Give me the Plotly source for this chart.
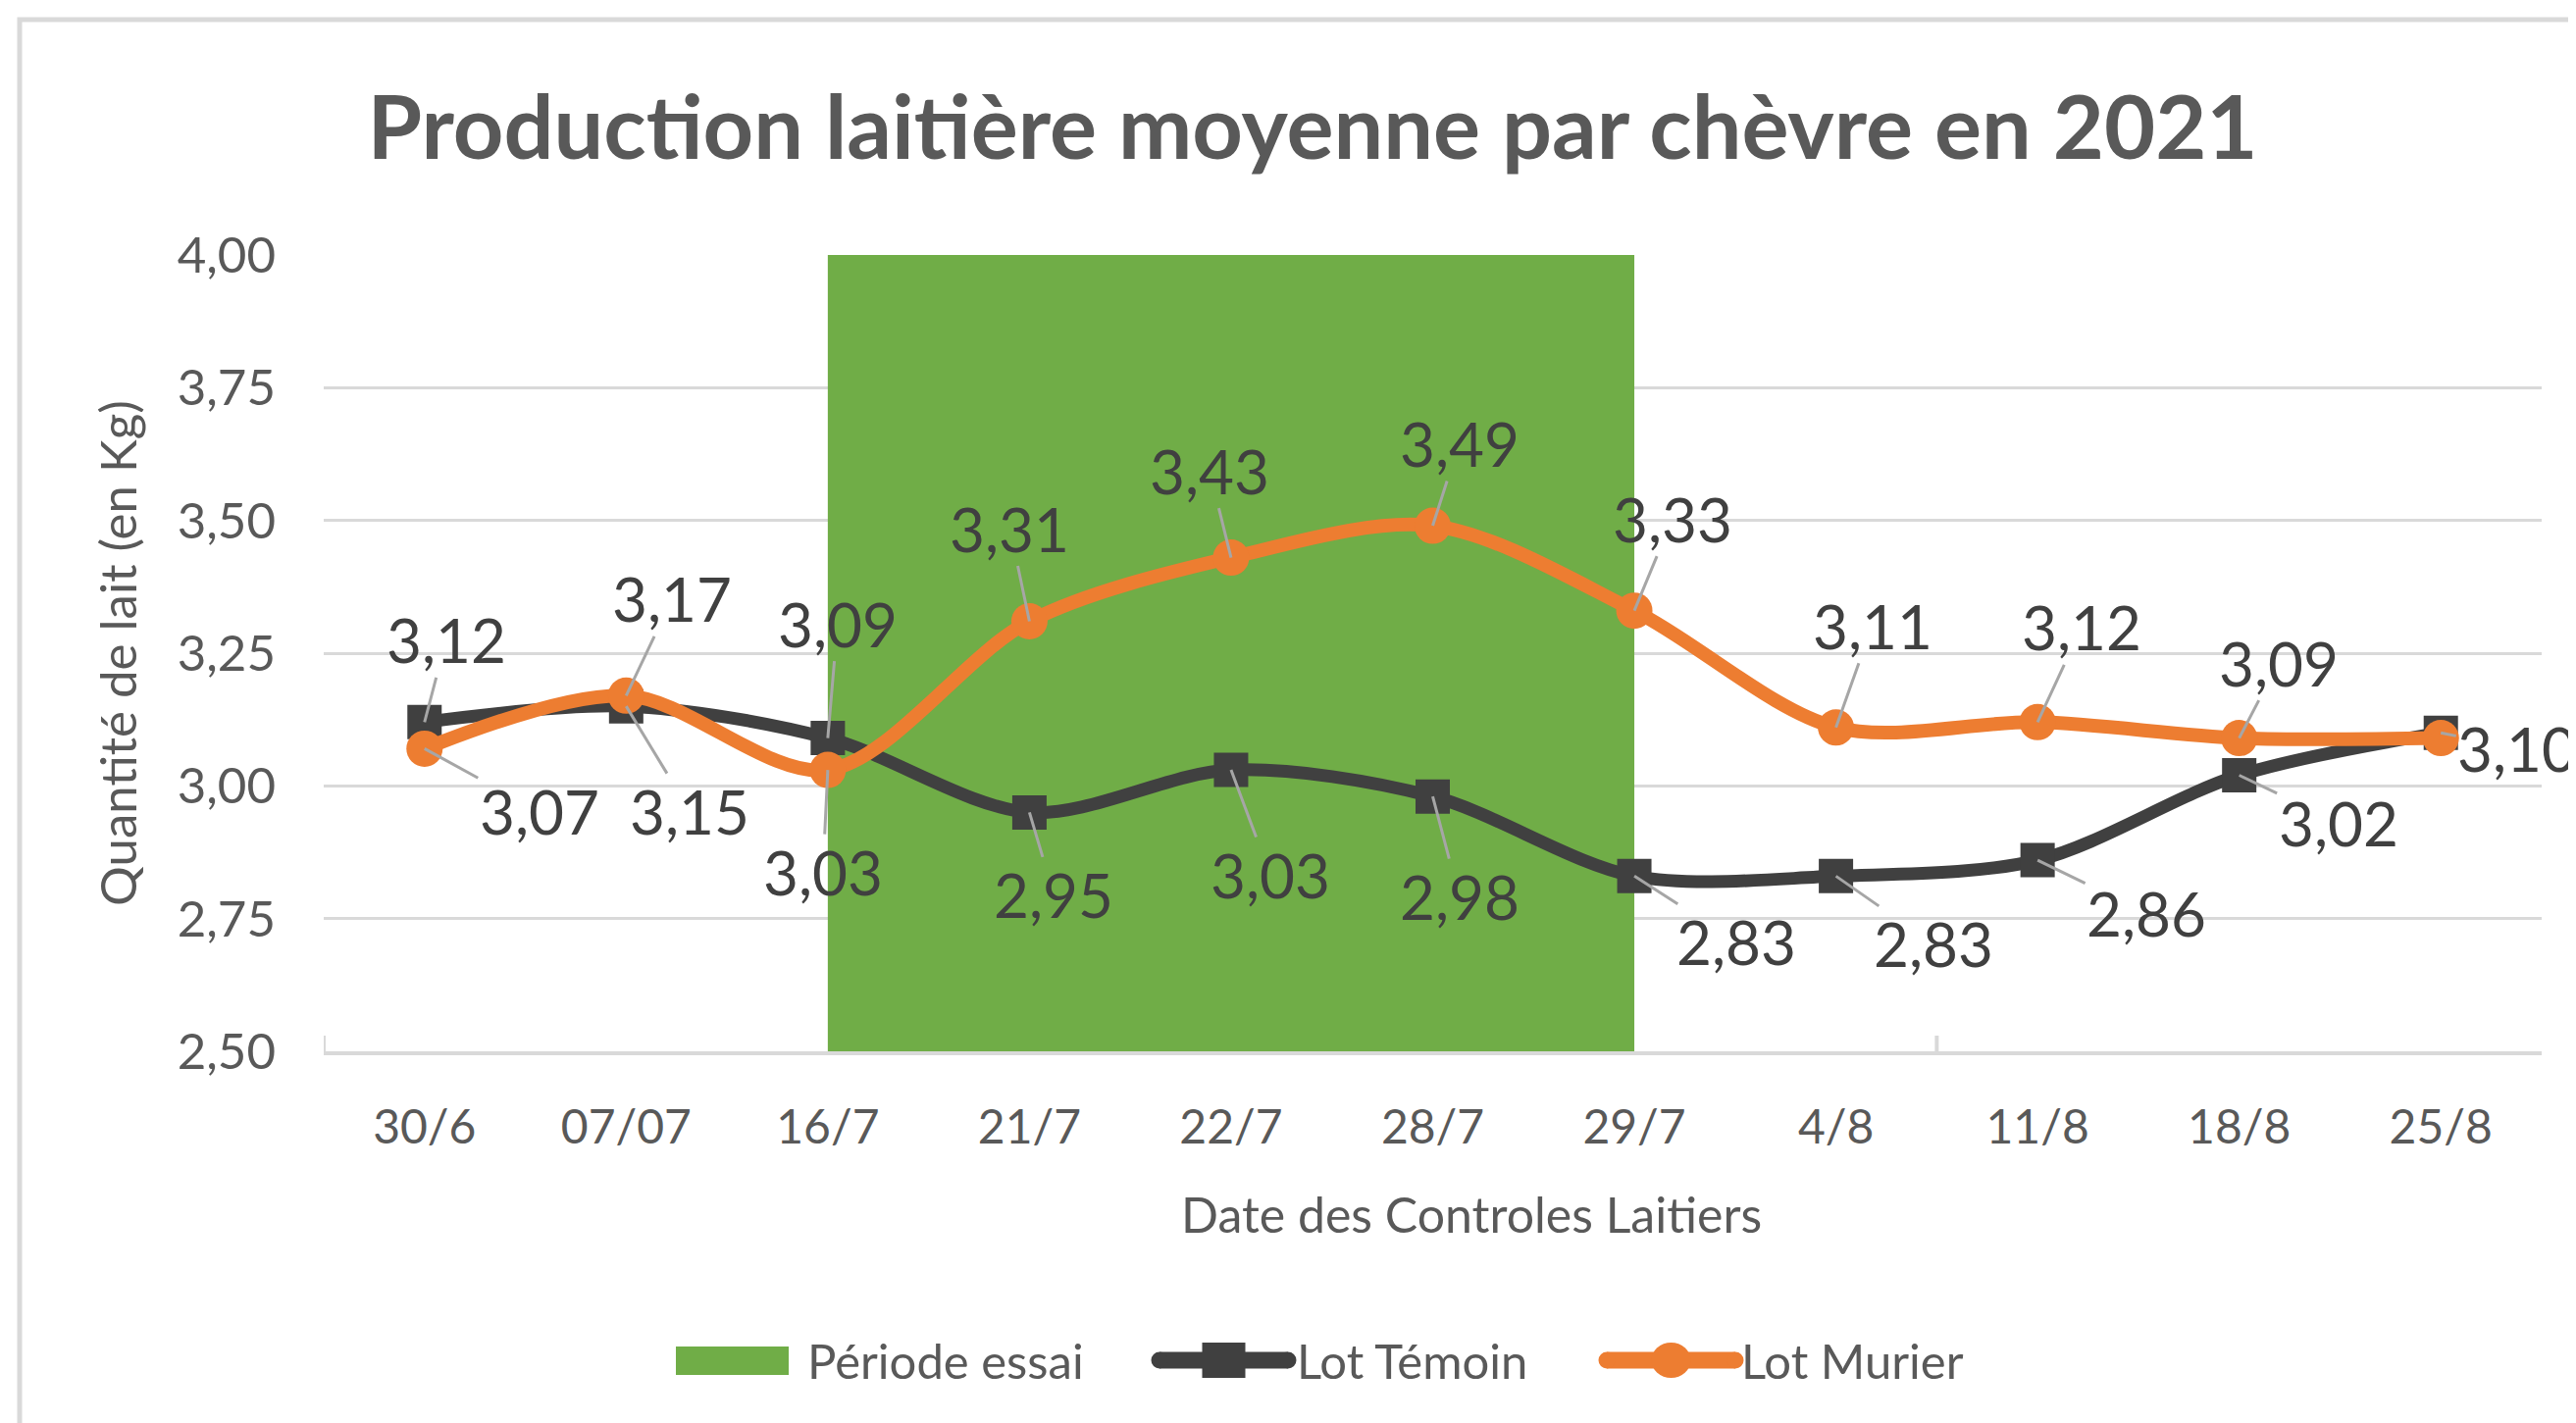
import plotly.graph_objects as go

# ---------------- data ----------------
dates = ["30/6", "07/07", "16/7", "21/7", "22/7", "28/7", "29/7", "4/8", "11/8", "18/8", "25/8"]
temoin = [3.12, 3.15, 3.09, 2.95, 3.03, 2.98, 2.83, 2.83, 2.86, 3.02, 3.10]
murier = [3.07, 3.17, 3.03, 3.31, 3.43, 3.49, 3.33, 3.11, 3.12, 3.09, 3.09]
essai_start = "16/7"
essai_end = "29/7"
y_min, y_max = 2.50, 4.00
y_ticks = [2.50, 2.75, 3.00, 3.25, 3.50, 3.75, 4.00]
y_tick_labels = ["2,50", "2,75", "3,00", "3,25", "3,50", "3,75", "4,00"]
series_names = ["Période essai", "Lot Témoin", "Lot Murier"]
chart_title = "Production laitière moyenne par chèvre en 2021"
x_title = "Date des Controles Laitiers"
y_title = "Quantité de lait (en Kg)"

# label offsets (pixels, screen coords) – styling only
temoin_offsets = [(22, -84), (65, 107), (10, -117), (25, 84), (40, 107), (27, 102),
                  (104, 67), (99, 69), (111, 54), (101, 48), (78, 16)]
murier_offsets = [(117, 64), (47, -99), (-5, 104), (-20, -95), (-22, -89), (27, -84),
                  (39, -94), (37, -104), (45, -97), (40, -77), None]

GREEN = "#70AD47"
DARK = "#404040"
ORANGE = "#ED7D31"
GRID = "#D9D9D9"
TXT = "#595959"
FONT = "Lato"

PAGE_OFF = 8                      # default body margin of the html page
W, H = 2626 - PAGE_OFF, 1451 - PAGE_OFF
L, R, T, B = 330 - PAGE_OFF, 35, 260 - PAGE_OFF, 379
PW, PH = W - L - R, H - T - B


def fmt(v):
    return f"{v:.2f}".replace(".", ",")


def px(xa):   # absolute page x -> paper
    return (xa - PAGE_OFF - L) / PW


def py(ya):   # absolute page y -> paper
    return (H - B - (ya - PAGE_OFF)) / PH


fig = go.Figure()

fig.add_trace(go.Scatter(
    x=[essai_start, essai_end, essai_end, essai_start, essai_start],
    y=[y_min, y_min, y_max, y_max, y_min],
    mode="none", fill="toself", fillcolor=GREEN,
    name=series_names[0], hoverinfo="skip", showlegend=False,
))

fig.add_trace(go.Scatter(
    x=dates, y=temoin, name=series_names[1], mode="lines+markers",
    line=dict(color=DARK, width=13, shape="spline", smoothing=0.9),
    marker=dict(symbol="square", size=35, color=DARK),
    showlegend=False,
))

fig.add_trace(go.Scatter(
    x=dates, y=murier, name=series_names[2], mode="lines+markers",
    line=dict(color=ORANGE, width=14, shape="spline", smoothing=0.9),
    marker=dict(symbol="circle", size=37, color=ORANGE),
    showlegend=False,
))

annotations = []
for series, offsets in ((temoin, temoin_offsets), (murier, murier_offsets)):
    for d, v, off in zip(dates, series, offsets):
        if off is None:
            continue
        annotations.append(dict(
            x=d, y=v, xref="x", yref="y", text=fmt(v),
            showarrow=True, arrowhead=0, arrowwidth=3, arrowcolor="#A6A6A6",
            ax=off[0], ay=off[1], standoff=0,
            font=dict(family=FONT, size=62, color=DARK),
        ))

# x axis title (Excel centres it slightly right of the plot centre)
annotations.append(dict(
    x=px(1500), y=py(1238), xref="paper", yref="paper",
    xanchor="center", yanchor="middle", showarrow=False, text=x_title,
    font=dict(family=FONT, size=50, color=TXT),
))

shapes = [
    # outer chart border
    dict(type="rect", xref="paper", yref="paper",
         x0=px(20), x1=1.3, y0=-1.0, y1=py(20),
         line=dict(color=GRID, width=5), layer="below"),
]
# cross tick marks on the category axis
for xpos in (-0.5, 7.5):
    shapes.append(dict(type="line", xref="x", yref="y", ysizemode="pixel",
                       yanchor=y_min, x0=xpos, x1=xpos, y0=-17, y1=16,
                       line=dict(color=GRID, width=4), layer="below"))

# ---------------- legend (drawn in the bottom margin) ----------------
LEG_Y = 1387
# green box
shapes.append(dict(type="rect", xref="paper", yref="paper",
                   x0=px(689), x1=px(804), y0=py(1402), y1=py(1373),
                   fillcolor=GREEN, line=dict(width=0)))
# line symbols with marker
for (x0, x1), col, sym in (((1182, 1313), DARK, "square"), ((1638, 1769), ORANGE, "circle")):
    shapes.append(dict(type="line", xref="paper", yref="paper",
                       x0=px(x0), x1=px(x1), y0=py(LEG_Y), y1=py(LEG_Y),
                       line=dict(color=col, width=17)))
    for xe in (x0, x1):
        shapes.append(dict(type="circle", xref="paper", yref="paper",
                           x0=px(xe - 8.5), x1=px(xe + 8.5),
                           y0=py(LEG_Y + 8.5), y1=py(LEG_Y - 8.5),
                           fillcolor=col, line=dict(width=0)))
    xc = (x0 + x1) / 2
    if sym == "square":
        shapes.append(dict(type="rect", xref="paper", yref="paper",
                           x0=px(xc - 22), x1=px(xc + 22),
                           y0=py(LEG_Y + 18), y1=py(LEG_Y - 18),
                           fillcolor=col, line=dict(width=0)))
    else:
        shapes.append(dict(type="circle", xref="paper", yref="paper",
                           x0=px(xc - 20), x1=px(xc + 20),
                           y0=py(LEG_Y + 18), y1=py(LEG_Y - 18),
                           fillcolor=col, line=dict(width=0)))

for name, xa in zip(series_names, (821, 1320, 1773)):
    annotations.append(dict(
        x=px(xa), y=py(LEG_Y), xref="paper", yref="paper",
        xanchor="left", yanchor="middle", showarrow=False, text=name,
        font=dict(family=FONT, size=49, color=TXT),
    ))

fig.update_layout(
    width=W, height=H,
    margin=dict(l=L, r=R, t=T, b=B),
    paper_bgcolor="white", plot_bgcolor="white",
    font=dict(family=FONT, color=TXT),
    title=dict(text=chart_title,
               x=(1338 - PAGE_OFF) / W, xanchor="center", xref="container",
               y=1 - (130 - PAGE_OFF) / H, yanchor="middle", yref="container",
               font=dict(family=FONT, size=90, color=TXT, weight="bold")),
    xaxis=dict(
        type="category", categoryorder="array", categoryarray=dates,
        range=[-0.5, len(dates) - 0.5],
        showgrid=False, showline=True, linecolor=GRID, linewidth=4,
        ticks="", tickfont=dict(family=FONT, size=48, color=TXT),
        ticklabelstandoff=32,
        zeroline=False,
    ),
    yaxis=dict(
        range=[y_min, y_max], tickvals=y_ticks, ticktext=y_tick_labels,
        showgrid=True, gridcolor=GRID, gridwidth=3, showline=False,
        zeroline=False, ticks="",
        tickfont=dict(family=FONT, size=51, color=TXT),
        ticklabelstandoff=48,
        title=dict(text=y_title, standoff=24,
                   font=dict(family=FONT, size=51, color=TXT)),
    ),
    annotations=annotations,
    shapes=shapes,
    showlegend=False,
)

fig.write_html("out.html")
